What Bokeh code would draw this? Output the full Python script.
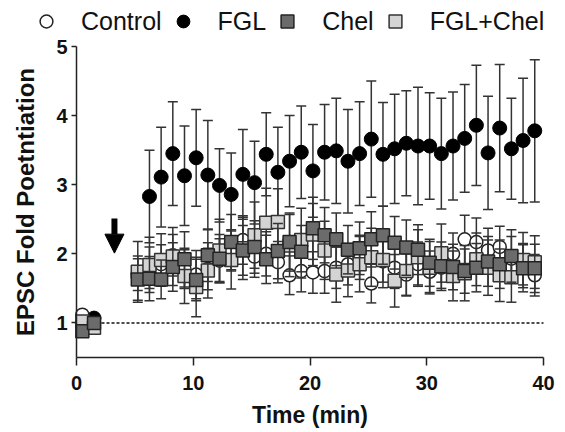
from bokeh.plotting import figure
from bokeh.models import FixedTicker, Arrow, NormalHead, Range1d, Legend, LegendItem
from bokeh.embed import file_html
from bokeh.resources import INLINE

# ---------------- data ----------------
series_names = ["Control", "FGL", "Chel", "FGL+Chel"]

base_time = [0.5, 1.5]
control_base = [1.12, 1.00]
fgl_base = [1.00, 1.07]
chel_base = [0.88, 1.00]
fglchel_base = [1.02, 0.93]
base_err = [0.06, 0.06]

post_time = [5.25, 6.25, 7.25, 8.25, 9.25, 10.25, 11.25, 12.25, 13.25, 14.25,
             15.25, 16.25, 17.25, 18.25, 19.25, 20.25, 21.25, 22.25, 23.25, 24.25,
             25.25, 26.25, 27.25, 28.25, 29.25, 30.25, 31.25, 32.25, 33.25, 34.25,
             35.25, 36.25, 37.25, 38.25, 39.25]

fgl_time = [6.25, 7.25, 8.25, 9.25, 10.25, 11.25, 12.25, 13.25, 14.25,
            15.25, 16.25, 17.25, 18.25, 19.25, 20.25, 21.25, 22.25, 23.25, 24.25,
            25.25, 26.25, 27.25, 28.25, 29.25, 30.25, 31.25, 32.25, 33.25, 34.25,
            35.25, 36.25, 37.25, 38.25, 39.25]
fgl_mean = [2.83, 3.11, 3.45, 3.13, 3.39, 3.14, 2.99, 2.86, 3.15, 3.03, 3.44, 3.18,
            3.34, 3.47, 3.20, 3.47, 3.49, 3.34, 3.45, 3.66, 3.44, 3.52, 3.60, 3.56,
            3.56, 3.45, 3.56, 3.67, 3.86, 3.46, 3.82, 3.52, 3.64, 3.78]
fgl_err = [0.67, 0.72, 0.75, 0.72, 0.70, 0.79, 0.53, 0.60, 0.65, 0.60, 0.60, 0.65,
           0.66, 0.67, 0.67, 0.69, 0.76, 0.75, 0.75, 0.84, 0.75, 0.79, 0.76, 0.85,
           0.77, 0.80, 0.78, 0.78, 0.87, 0.82, 0.92, 0.73, 0.90, 1.03]

chel_mean = [1.63, 1.64, 1.63, 1.81, 1.92, 1.62, 1.98, 1.93, 2.17, 2.05, 2.10, 1.92,
             2.04, 2.17, 2.03, 2.37, 2.27, 2.21, 2.06, 2.08, 2.21, 2.27, 2.16, 2.09,
             2.06, 1.87, 1.82, 1.81, 1.75, 1.80, 1.89, 1.85, 1.97, 1.79, 1.79]
chel_err = [0.30, 0.32, 0.28, 0.35, 0.40, 0.30, 0.38, 0.35, 0.40, 0.36, 0.38, 0.35,
            0.40, 0.42, 0.38, 0.45, 0.40, 0.38, 0.35, 0.38, 0.40, 0.42, 0.38, 0.40,
            0.36, 0.34, 0.35, 0.33, 0.32, 0.35, 0.36, 0.35, 0.38, 0.34, 0.35]

fglchel_mean = [1.74, 1.84, 1.91, 1.96, 1.68, 1.52, 1.76, 2.05, 1.91, 2.08, 2.27, 2.45,
                2.46, 2.12, 2.20, 2.28, 2.05, 1.70, 1.76, 1.85, 1.95, 1.91, 1.61, 1.75,
                1.95, 1.80, 2.01, 1.68, 1.72, 1.92, 1.80, 1.69, 1.66, 1.91, 1.88]
fglchel_err = [0.44, 0.40, 0.38, 0.42, 0.40, 0.43, 0.40, 0.45, 0.42, 0.45, 0.48, 0.50,
               0.48, 0.45, 0.46, 0.45, 0.42, 0.40, 0.38, 0.40, 0.42, 0.40, 0.38, 0.36,
               0.40, 0.38, 0.42, 0.36, 0.40, 0.38, 0.40, 0.38, 0.36, 0.40, 0.38]

control_mean = [1.72, 1.80, 1.85, 1.98, 1.78, 1.70, 1.78, 1.90, 2.05, 2.20, 1.96, 2.00,
                1.88, 1.69, 1.75, 1.73, 1.75, 1.80, 1.85, 1.95, 1.57, 1.89, 1.80, 1.70,
                1.85, 1.74, 1.80, 2.00, 2.21, 2.17, 2.05, 2.10, 1.93, 1.85, 1.69]
control_err = [0.25, 0.30, 0.28, 0.30, 0.28, 0.35, 0.30, 0.32, 0.30, 0.35, 0.30, 0.32,
               0.30, 0.28, 0.30, 0.30, 0.32, 0.30, 0.30, 0.32, 0.28, 0.30, 0.30, 0.30,
               0.32, 0.30, 0.30, 0.30, 0.35, 0.35, 0.32, 0.30, 0.32, 0.30, 0.30]

x_ticks = [0, 10, 20, 30, 40]
y_ticks = [1, 2, 3, 4, 5]
x_bounds = (0, 40)
y_bounds = (0.5, 5)
baseline_level = 1
arrow_time = 3.25
arrow_from, arrow_to = 2.51, 2.01

FONT = "Liberation Sans"

# ---------------- layout (pixels) ----------------
W, H = 557, 431
axis_left_px, axis_right_px = 76, 543   # where x = 0 and x = 40 sit
axis_top_px, axis_bottom_px = 46, 357   # where y = 5 and y = 0.5 sit
px_per_x = (axis_right_px - axis_left_px) / (x_bounds[1] - x_bounds[0])
px_per_y = (axis_bottom_px - axis_top_px) / (y_bounds[1] - y_bounds[0])
x_start = x_bounds[0] - axis_left_px / px_per_x
x_end = x_bounds[1] + (W - axis_right_px) / px_per_x
y_end = y_bounds[1] + axis_top_px / px_per_y
y_start = y_bounds[0] - (H - axis_bottom_px) / px_per_y

p = figure(width=W, height=H, output_backend="svg", toolbar_location=None,
           x_range=Range1d(x_start, x_end), y_range=Range1d(y_start, y_end))
p.min_border_left = 0
p.min_border_right = 0
p.min_border_top = 0
p.min_border_bottom = 0
p.outline_line_color = None
p.xgrid.grid_line_color = None
p.ygrid.grid_line_color = None
p.background_fill_color = "white"
p.border_fill_color = "white"

for ax, ticks, bnds in ((p.xaxis[0], x_ticks, x_bounds), (p.yaxis[0], y_ticks, y_bounds)):
    ax.ticker = FixedTicker(ticks=ticks)
    ax.bounds = bnds
    ax.minor_tick_line_color = None
    ax.axis_line_width = 1.5
    ax.axis_line_color = "#222222"
    ax.major_tick_line_width = 1.5
    ax.major_tick_line_color = "#222222"
    ax.major_tick_in = 0
    ax.major_label_text_font = FONT
    ax.major_label_text_font_style = "bold"
    ax.major_label_text_font_size = "20px"
    ax.major_label_text_color = "#111111"
    ax.axis_label_text_font = FONT
    ax.axis_label_text_font_style = "bold"
    ax.axis_label_text_color = "#111111"

p.xaxis.fixed_location = y_bounds[0]
p.xaxis.major_tick_out = 8
p.xaxis.major_label_standoff = 10
p.xaxis.axis_label = "Time (min)"
p.xaxis.axis_label_text_font_size = "23px"
p.xaxis.axis_label_standoff = 9

p.yaxis.fixed_location = x_bounds[0]
p.yaxis.major_tick_out = 5
p.yaxis.major_label_standoff = 4
p.yaxis.axis_label = "EPSC Fold Poetntiation"
p.yaxis.axis_label_text_font_size = "24px"
p.yaxis.axis_label_standoff = 14

# dotted reference line at fold potentiation = 1
p.segment(x0=[x_bounds[0]], y0=[baseline_level], x1=[x_bounds[1]], y1=[baseline_level],
          line_color="#111111", line_width=1.5, line_dash="3 2")

p.add_layout(Arrow(end=NormalHead(size=19, fill_color="black", line_color="black", line_width=1),
                   x_start=arrow_time, y_start=arrow_from, x_end=arrow_time, y_end=arrow_to,
                   line_width=6, line_color="black"))

err_color = "#333333"


def errbars(t, m, e):
    lo = [a - b for a, b in zip(m, e)]
    hi = [a + b for a, b in zip(m, e)]
    p.segment(x0=t, y0=lo, x1=t, y1=hi, line_color=err_color, line_width=1.5)
    p.scatter(x=t + t, y=lo + hi, marker="dash", size=10, line_color=err_color, line_width=1.5)


all_fgl_t = base_time + fgl_time
all_fgl_m = fgl_base + fgl_mean
all_fgl_e = base_err + fgl_err
all_t = base_time + post_time
ctrl_m = control_base + control_mean
ctrl_e = base_err + control_err
fc_m = fglchel_base + fglchel_mean
fc_e = base_err + fglchel_err
ch_m = chel_base + chel_mean
ch_e = base_err + chel_err

errbars(all_fgl_t, all_fgl_m, all_fgl_e)
r_fgl = p.scatter(x=all_fgl_t, y=all_fgl_m, marker="circle", size=14,
                  fill_color="black", line_color="black")

errbars(all_t, ctrl_m, ctrl_e)
r_ctrl = p.scatter(x=all_t, y=ctrl_m, marker="circle", size=13, fill_color="white",
                   line_color="#222222", line_width=1.5)

errbars(all_t, fc_m, fc_e)
r_fc = p.scatter(x=all_t, y=fc_m, marker="square", size=13, fill_color="#d4d4d4",
                 line_color="#333333", line_width=1.5)

errbars(all_t, ch_m, ch_e)
r_ch = p.scatter(x=all_t, y=ch_m, marker="square", size=13, fill_color="#6b6b6b",
                 line_color="#222222", line_width=1.5)

# ---------------- legend (top strip, inside the enlarged frame) ----------------
legend_left_px, legend_mid_px, legend_h = 30, 21, 32
legend = Legend(
    items=[LegendItem(label=series_names[0], renderers=[r_ctrl]),
           LegendItem(label=series_names[1], renderers=[r_fgl]),
           LegendItem(label=series_names[2], renderers=[r_ch]),
           LegendItem(label=series_names[3], renderers=[r_fc])],
    orientation="horizontal",
    location=(legend_left_px, H - legend_mid_px - legend_h // 2),
    glyph_width=legend_h, glyph_height=legend_h,
    label_standoff=19, spacing=5,
    padding=0, margin=0,
    border_line_color=None, background_fill_alpha=0,
    label_text_font=FONT, label_text_font_size="25px", label_text_color="#111111",
    label_height=legend_h,
)
p.add_layout(legend, "center")

open("out.html", "w").write(file_html(p, INLINE))
